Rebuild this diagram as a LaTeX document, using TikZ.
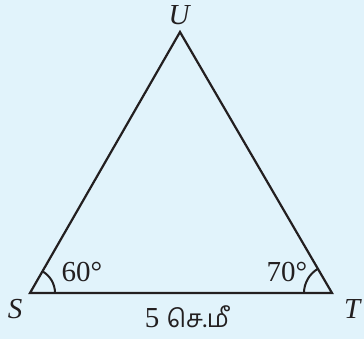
\documentclass[tikz,border=0pt]{standalone}
\usepackage{fontspec}
\setmainfont{Liberation Serif}
\newfontfamily\tamilfont[Script=Tamil,Scale=0.85]{Hind Madurai}
\usepackage{xcolor}
\usetikzlibrary{angles}
\definecolor{skyback}{HTML}{E1F3FB}
\definecolor{inkline}{HTML}{231F20}

\begin{document}
\begin{tikzpicture}[x=0.5pt,y=0.5pt, every node/.style={font=\fontsize{14.5}{17}\selectfont,text=inkline,inner sep=0pt},
side/.style={draw=inkline,line width=1.1pt,line join=miter},
arcmark/.style={draw=inkline,line width=1pt}]
\fill[skyback] (0,0) rectangle (364,339);
\useasboundingbox (0,0) rectangle (364,339);
\coordinate (S) at (30,46);
\coordinate (T) at (332,46);
\coordinate (U) at (180,307);
\draw[side] (S)--(T)--(U)--cycle;
\pic[arcmark,angle radius=12.5pt] {angle=T--S--U};
\pic[arcmark,angle radius=14pt] {angle=U--T--S};
\node (lS) at (15,30) {\textit{S}};
\node (lT) at (353,30) {\textit{T}};
\node (lU) at (180,324) {\textit{U}};
\node (aS) at (82,67) {60°};
\node (aT) at (287,67) {70°};
\node (base) at (187,22) {5 {\tamilfont செ.மீ}};
\end{tikzpicture}
\end{document}
